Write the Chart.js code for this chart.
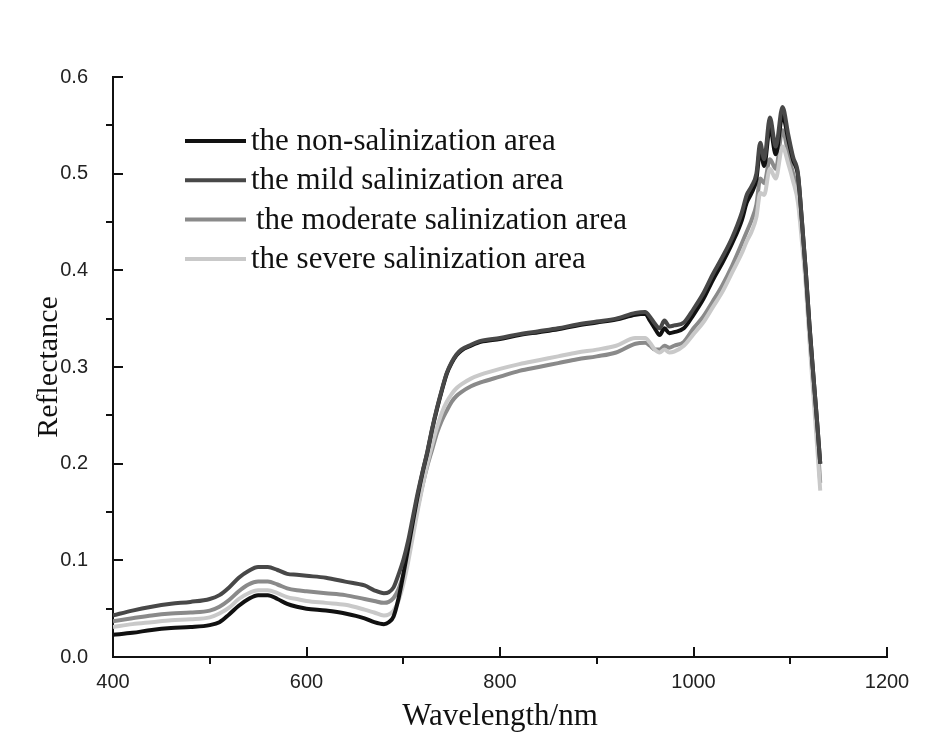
<!DOCTYPE html>
<html>
<head>
<meta charset="utf-8">
<script src="https://cdn.jsdelivr.net/npm/chart.js@4.4.1/dist/chart.umd.min.js"></script>
<style>
  html, body { margin: 0; padding: 0; background: #fff; }
</style>
</head>
<body>
<canvas id="chart" width="928" height="735"></canvas>
<script>
// wavelength (nm) and reflectance
const wavelengths = [400, 420, 440, 460, 480, 500, 510, 520, 530, 540, 550, 560, 570, 580, 590, 600, 620, 640, 660, 670, 680, 685, 690, 695, 700, 705, 710, 715, 720, 725, 730, 735, 740, 745, 750, 755, 760, 770, 780, 800, 820, 840, 860, 880, 900, 920, 940, 950, 955, 960, 965, 970, 975, 980, 990, 1000, 1010, 1020, 1030, 1040, 1050, 1055, 1060, 1065, 1069, 1073, 1079, 1085, 1092, 1098, 1103, 1108, 1112, 1116, 1120, 1124, 1128, 1131];

const nonSalinization = [0.023, 0.025, 0.028, 0.030, 0.031, 0.033, 0.036, 0.044, 0.053, 0.060, 0.064, 0.064, 0.060, 0.055, 0.052, 0.050, 0.048, 0.045, 0.040, 0.036, 0.034, 0.036, 0.042, 0.060, 0.085, 0.112, 0.140, 0.167, 0.191, 0.212, 0.236, 0.257, 0.276, 0.293, 0.304, 0.312, 0.317, 0.322, 0.326, 0.329, 0.333, 0.336, 0.339, 0.343, 0.346, 0.349, 0.354, 0.355, 0.348, 0.340, 0.333, 0.340, 0.335, 0.336, 0.340, 0.354, 0.370, 0.390, 0.408, 0.428, 0.452, 0.470, 0.480, 0.494, 0.525, 0.508, 0.548, 0.520, 0.560, 0.535, 0.514, 0.498, 0.452, 0.400, 0.342, 0.290, 0.240, 0.200];

const mildSalinization = [0.043, 0.048, 0.052, 0.055, 0.057, 0.060, 0.064, 0.072, 0.082, 0.089, 0.093, 0.093, 0.090, 0.086, 0.085, 0.084, 0.082, 0.078, 0.074, 0.069, 0.066, 0.067, 0.072, 0.085, 0.100, 0.120, 0.145, 0.170, 0.192, 0.213, 0.237, 0.258, 0.277, 0.294, 0.305, 0.313, 0.318, 0.323, 0.327, 0.330, 0.334, 0.337, 0.340, 0.344, 0.347, 0.350, 0.356, 0.357, 0.352, 0.345, 0.340, 0.348, 0.342, 0.343, 0.346, 0.360, 0.376, 0.396, 0.414, 0.434, 0.460, 0.478, 0.487, 0.500, 0.532, 0.515, 0.558, 0.528, 0.569, 0.540, 0.517, 0.500, 0.452, 0.400, 0.341, 0.290, 0.240, 0.200];

const moderateSalinization = [0.037, 0.040, 0.043, 0.045, 0.046, 0.048, 0.052, 0.059, 0.068, 0.075, 0.078, 0.078, 0.075, 0.071, 0.069, 0.068, 0.066, 0.064, 0.060, 0.058, 0.056, 0.057, 0.061, 0.070, 0.085, 0.105, 0.130, 0.155, 0.178, 0.198, 0.215, 0.232, 0.245, 0.255, 0.264, 0.270, 0.274, 0.280, 0.284, 0.290, 0.296, 0.300, 0.304, 0.308, 0.311, 0.315, 0.324, 0.325, 0.322, 0.318, 0.318, 0.322, 0.320, 0.322, 0.326, 0.340, 0.352, 0.368, 0.385, 0.405, 0.428, 0.440, 0.452, 0.468, 0.495, 0.490, 0.515, 0.505, 0.545, 0.520, 0.500, 0.480, 0.440, 0.395, 0.335, 0.280, 0.225, 0.180];

const severeSalinization = [0.031, 0.034, 0.036, 0.038, 0.039, 0.041, 0.045, 0.051, 0.060, 0.066, 0.069, 0.069, 0.066, 0.062, 0.060, 0.058, 0.056, 0.054, 0.049, 0.046, 0.043, 0.044, 0.048, 0.058, 0.075, 0.098, 0.125, 0.152, 0.177, 0.200, 0.220, 0.238, 0.253, 0.264, 0.272, 0.278, 0.282, 0.288, 0.292, 0.298, 0.303, 0.307, 0.311, 0.315, 0.318, 0.322, 0.330, 0.330, 0.325, 0.318, 0.315, 0.318, 0.315, 0.316, 0.322, 0.334, 0.346, 0.362, 0.378, 0.398, 0.418, 0.430, 0.440, 0.455, 0.480, 0.478, 0.505, 0.495, 0.528, 0.510, 0.492, 0.470, 0.430, 0.385, 0.325, 0.270, 0.215, 0.172];

const seriesLabels = [
  "the non-salinization area",
  "the mild salinization area",
  "the moderate salinization area",
  "the severe salinization area",
];
const seriesColors = ["#111111", "#484848", "#8a8a8a", "#c9c9c9"];
const seriesValues = [nonSalinization, mildSalinization, moderateSalinization, severeSalinization];
const drawOrder = [1, 0, 3, 2];

const xMin = 400, xMax = 1200, xStep = 200;
const yMin = 0, yMax = 0.6, yStep = 0.1;

function toPoints(values) {
  return values.map((v, i) => ({ x: wavelengths[i], y: v }));
}

// ticks like the original: major ones point inward, minor ones outward
const axisTicks = {
  id: "axisTicks",
  afterDatasetsDraw(chart) {
    const { ctx, scales: { x, y } } = chart;
    ctx.save();
    ctx.strokeStyle = "#111";
    ctx.lineWidth = 2;
    ctx.beginPath();
    for (let v = xMin; v <= xMax; v += xStep / 2) {
      const px = Math.round(x.getPixelForValue(v));
      const major = (v - xMin) % xStep === 0;
      ctx.moveTo(px, y.bottom);
      ctx.lineTo(px, major ? y.bottom - 10 : y.bottom + 7);
    }
    for (let k = 0; k <= 12; k++) {
      const py = Math.round(y.getPixelForValue(yMin + k * yStep / 2));
      ctx.moveTo(x.left, py);
      ctx.lineTo(k % 2 === 0 ? x.left + 10 : x.left - 7, py);
    }
    ctx.stroke();
    ctx.restore();
  },
};

const insideLegend = {
  id: "insideLegend",
  afterDraw(chart) {
    const ctx = chart.ctx;
    ctx.save();
    ctx.font = '31px "Liberation Serif"';
    ctx.textBaseline = "middle";
    seriesLabels.forEach((label, i) => {
      const rowY = 141 + i * 39.3;
      ctx.strokeStyle = seriesColors[i];
      ctx.lineWidth = 4;
      ctx.beginPath();
      ctx.moveTo(185, rowY);
      ctx.lineTo(246, rowY);
      ctx.stroke();
      ctx.fillStyle = "#111";
      ctx.fillText(label, i === 2 ? 256 : 251, rowY + 1);
    });
    ctx.restore();
  },
};

const chart = new Chart(document.getElementById("chart"), {
  type: "line",
  data: {
    datasets: seriesValues.map((values, i) => ({
      label: seriesLabels[i],
      data: toPoints(values),
      borderColor: seriesColors[i],
      backgroundColor: seriesColors[i],
      borderWidth: 4,
      pointRadius: 0,
      cubicInterpolationMode: "monotone",
      order: drawOrder[i],
    })),
  },
  plugins: [axisTicks, insideLegend],
  options: {
    responsive: false,
    animation: false,
    devicePixelRatio: 1,
    layout: { padding: { top: 77, right: 41, left: 0, bottom: 0 } },
    scales: {
      x: {
        type: "linear",
        min: xMin,
        max: xMax,
        afterFit(scale) {
          scale.height = 78;
        },
        ticks: {
          stepSize: xStep,
          padding: 13,
          color: "#222",
          font: { family: "Liberation Sans", size: 20 },
          callback: (v) => String(v),
        },
        grid: { display: false, drawTicks: false },
        border: { display: true, color: "#111", width: 2 },
        title: {
          display: true,
          text: "Wavelength/nm",
          color: "#111",
          font: { family: "Liberation Serif", size: 31 },
          padding: { top: 0, bottom: 0 },
        },
      },
      y: {
        min: yMin,
        max: yMax,
        afterFit(scale) {
          scale.width = 113;
        },
        ticks: {
          stepSize: yStep,
          padding: 25,
          color: "#222",
          font: { family: "Liberation Sans", size: 20 },
          callback: (v) => Number(v).toFixed(1),
        },
        grid: { display: false, drawTicks: false },
        border: { display: true, color: "#111", width: 2 },
        title: {
          display: true,
          text: "Reflectance",
          color: "#111",
          font: { family: "Liberation Serif", size: 30 },
          padding: { top: 31, bottom: 0 },
        },
      },
    },
    plugins: {
      legend: { display: false },
      tooltip: { enabled: false },
    },
  },
});
</script>
</body>
</html>
